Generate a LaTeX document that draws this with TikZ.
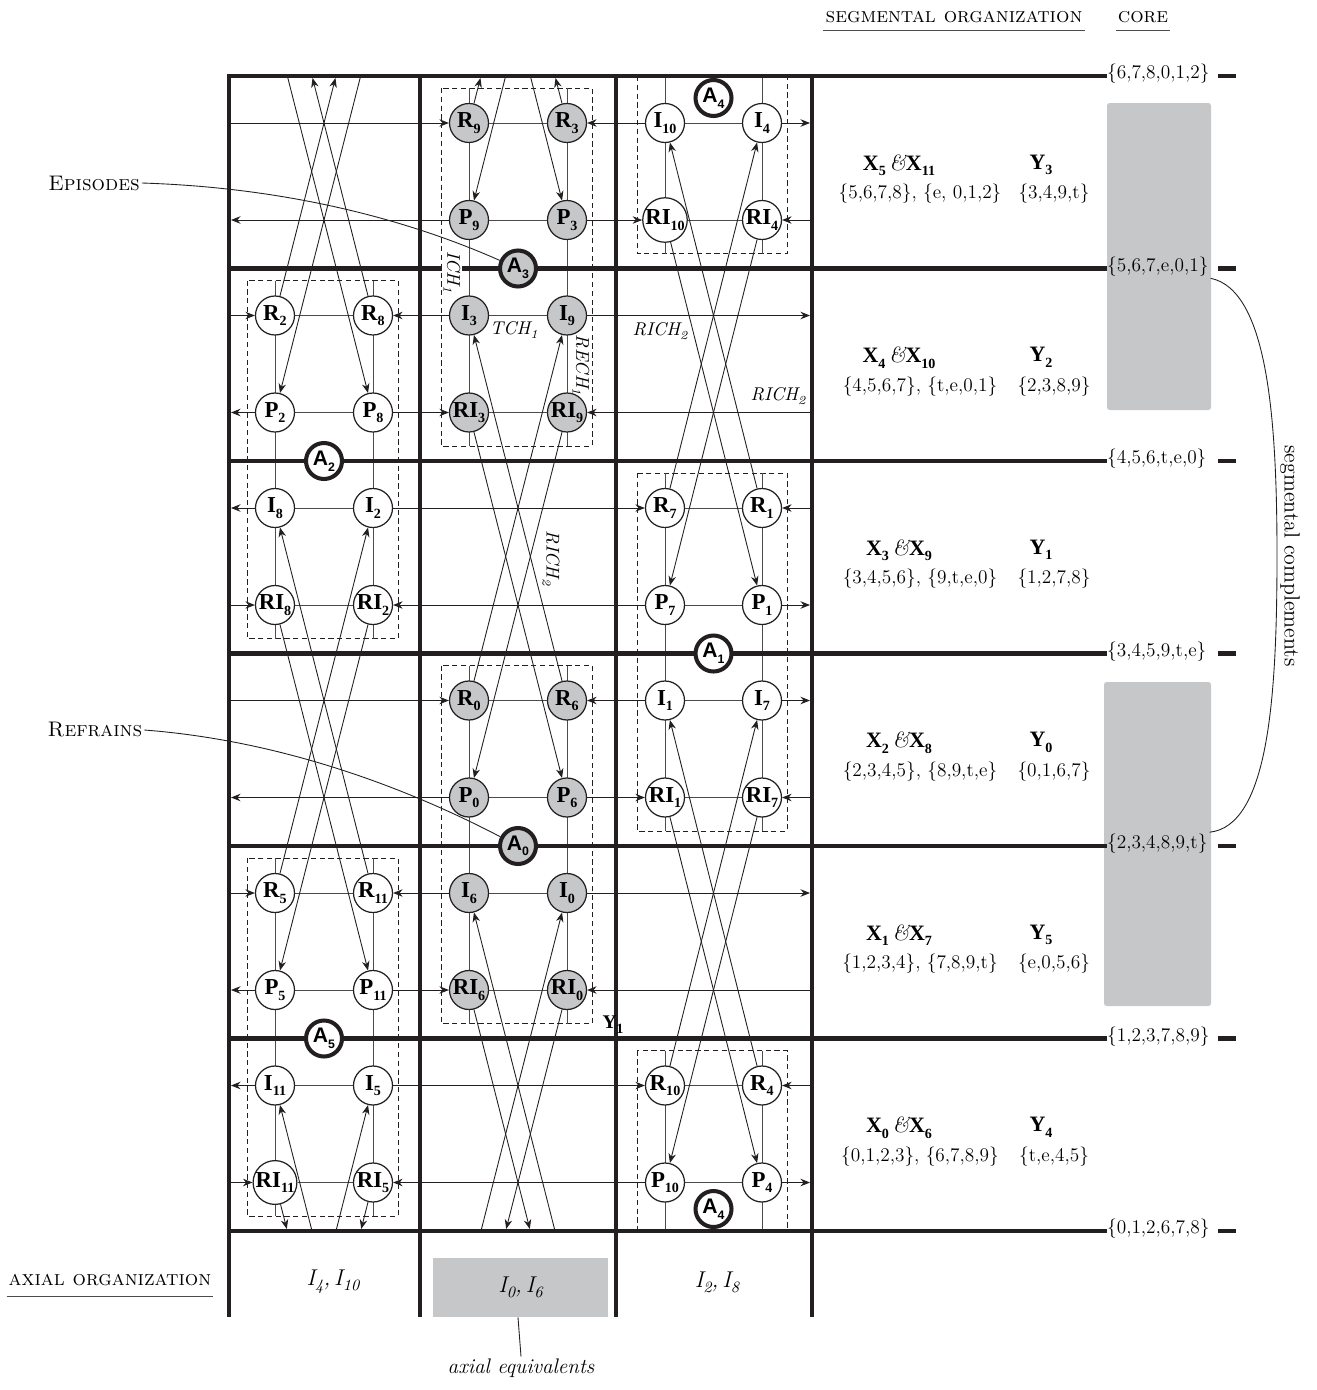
\documentclass[tikz,border=0pt]{standalone}
\usepackage{fontspec}
\usepackage{tikz}
\usetikzlibrary{calc,arrows.meta,backgrounds}
\newfontfamily\tonefont{Liberation Serif}
\newfontfamily\afont{Liberation Sans}
\definecolor{coreclr}{RGB}{198,199,201}
\definecolor{inkclr}{RGB}{35,31,32}
\newcommand{\tone}[2]{{\tonefont\bfseries #1\raisebox{-0.55ex}{\fontsize{8}{8}\selectfont #2}}}
\newcommand{\alab}[1]{{\afont\bfseries A\raisebox{-0.5ex}{\fontsize{7}{7}\selectfont #1}}}
\newcommand{\chlab}[2]{{\itshape #1\raisebox{-0.5ex}{\fontsize{7}{7}\selectfont #2}}}
\newcommand{\axlab}[2]{{\itshape I\raisebox{-0.5ex}{\fontsize{9}{9}\selectfont #1},\,I\raisebox{-0.5ex}{\fontsize{9}{9}\selectfont #2}}}
% wrapped diagonals: out through one edge, back in through the other
\newcommand{\wrapup}[2]{%
  \coordinate (g#2) at ($(#2)+(0,-1155)$);
  \coordinate (g#1) at ($(#1)+(0,1155)$);
  \draw[arr] (#1) -- (intersection of #1--g#2 and topl--topr);
  \draw[arr] (intersection of g#1--#2 and botl--botr) -- (#2);}
\newcommand{\wrapdn}[2]{%
  \coordinate (g#2) at ($(#2)+(0,1155)$);
  \coordinate (g#1) at ($(#1)+(0,-1155)$);
  \draw[arr] (#1) -- (intersection of #1--g#2 and botl--botr);
  \draw[arr] (intersection of g#1--#2 and topl--topr) -- (#2);}
\tikzset{
  form/.style  = {circle, draw=inkclr, line width=0.7pt, fill=white,
                  minimum size=7.8mm, inner sep=0pt, font=\fontsize{13}{13}\selectfont},
  gform/.style = {form, fill=coreclr},
  ax/.style    = {circle, draw=inkclr, line width=2.3pt, fill=white,
                  minimum size=7.2mm, inner sep=0pt, font=\fontsize{12}{12}\selectfont},
  wall/.style  = {draw=inkclr, line width=0.85mm},
  link/.style  = {draw=black!70, line width=0.5pt},
  arr/.style   = {draw=inkclr, line width=0.5pt, -{Stealth[length=1.9mm,width=1.5mm]}},
  dbox/.style  = {draw=inkclr, line width=0.5pt, dash pattern=on 3pt off 2pt},
  lbl/.style   = {font=\fontsize{11}{13}\selectfont, inner sep=1pt},
  head/.style  = {font=\fontsize{12}{14}\selectfont, inner sep=1pt},
  chn/.style   = {font=\fontsize{10.5}{12}\selectfont, inner sep=1pt},
}

\begin{document}
\begin{tikzpicture}[x=0.2mm, y=-0.2mm]
  \useasboundingbox (0,0) rectangle (1316,1390);
  % -- walls used by the row and wrapped lines -----------------------
  \coordinate (wl) at (231,76);
  \coordinate (wr) at (810,76);
  \coordinate (topl) at (229,78);
  \coordinate (topr) at (812,78);
  \coordinate (botl) at (229,1229);
  \coordinate (botr) at (812,1229);

  % -- row forms -------------------------------------------------------
  \foreach \nm/\ltr/\idx/\x/\y in {
      r2/R/2/275/315.5, r8/R/8/373/315.5, p2/P/2/275/412.5, p8/P/8/373/412.5,
      i8/I/8/275/508, i2/I/2/373/508, ri8/RI/8/275/605, ri2/RI/2/373/605,
      r5/R/5/275/893, r11/R/11/373/893, p5/P/5/275/990, p11/P/11/373/990,
      i11/I/11/275/1085.5, i5/I/5/373/1085.5, ri11/RI/11/275/1182.5, ri5/RI/5/373/1182.5,
      i10/I/10/665/123, i4/I/4/762/123, ri10/RI/10/665/220, ri4/RI/4/762/220,
      r7/R/7/665/508, r1/R/1/762/508, p7/P/7/665/605, p1/P/1/762/605,
      i1/I/1/665/700.5, i7/I/7/762/700.5, ri1/RI/1/665/797.5, ri7/RI/7/762/797.5,
      r10/R/10/665/1085.5, r4/R/4/762/1085.5, p10/P/10/665/1182.5, p4/P/4/762/1182.5}
    \node[form] (\nm) at (\x,\y) {\tone{\ltr}{\idx}};
  \foreach \nm/\ltr/\idx/\x/\y in {
      r9/R/9/469/123, r3/R/3/567/123, p9/P/9/469/220, p3/P/3/567/220,
      i3/I/3/469/315.5, i9/I/9/567/315.5, ri3/RI/3/469/412.5, ri9/RI/9/567/412.5,
      r0/R/0/469/700.5, r6/R/6/567/700.5, p0/P/0/469/797.5, p6/P/6/567/797.5,
      i6/I/6/469/893, i0/I/0/567/893, ri6/RI/6/469/990, ri0/RI/0/567/990}
    \node[gform] (\nm) at (\x,\y) {\tone{\ltr}{\idx}};

  % -- axes --------------------------------------------------------------
  \foreach \nm/\idx/\x/\y/\clr in {a4/4/713.5/98/white, a3/3/518/268.5/coreclr,
      a2/2/324/461/white, a1/1/713.5/653.5/white, a0/0/518/846/coreclr,
      a5/5/324/1038.5/white, a4b/4/713.5/1209/white}
    \node[ax, fill=\clr] (\nm) at (\x,\y) {\alab{\idx}};

  % -- chain labels ----------------------------------------------------
  \node[chn, fill=white, rotate=-90] (ich) at (452,272) {\chlab{ICH}{1}};
  \node[chn] (tch) at (514,330) {\chlab{TCH}{1}};
  \node[chn, rotate=-90] (rech) at (581,365) {\chlab{RECH}{1}};
  \node[chn] (richa) at (660,331) {\chlab{RICH}{2}};
  \node[chn] (richb) at (778,396) {\chlab{RICH}{2}};
  \node[chn, rotate=-90] (richc) at (551,558) {\chlab{RICH}{2}};
  \node[lbl] (yone) at (613,1025) {\tone{Y}{1}};

  % -- segmental organization ------------------------------------------
  \node[head, anchor=base] (segorg) at (954,22) {\textsc{segmental organization}};
  \node[head, anchor=base] (core) at (1143,22) {\textsc{core}};
  \foreach \k/\s in {0/{6,7,8,0,1,2}, 1/{5,6,7,e,0,1}, 2/{4,5,6,t,e,0},
                     3/{3,4,5,9,t,e}, 4/{2,3,4,8,9,t}, 5/{1,2,3,7,8,9}, 6/{0,1,2,6,7,8}}
    \node[lbl, anchor=west] (s\k) at (1105,{76+192.5*\k-2}) {\{\s\}};
  \foreach \k/\xa/\xb/\yi/\sa/\sb in {
      1/5/11/3/{\{5,6,7,8\}, \{e, 0,1,2\}}/{\{3,4,9,t\}},
      2/4/10/2/{\{4,5,6,7\}, \{t,e,0,1\}}/{\{2,3,8,9\}},
      3/3/9/1/{\{3,4,5,6\}, \{9,t,e,0\}}/{\{1,2,7,8\}},
      4/2/8/0/{\{2,3,4,5\}, \{8,9,t,e\}}/{\{0,1,6,7\}},
      5/1/7/5/{\{1,2,3,4\}, \{7,8,9,t\}}/{\{e,0,5,6\}},
      6/0/6/4/{\{0,1,2,3\}, \{6,7,8,9\}}/{\{t,e,4,5\}}}{
    \pgfmathsetmacro\T{76+192.5*(\k-1)}
    \node[lbl, font=\fontsize{12.5}{14}\selectfont] (xl\k) at (899,\T+89)
      {\tone{X}{\xa}\,{\itshape\&}\tone{X}{\xb}};
    \node[lbl] (xs\k) at (920,\T+118) {\sa};
    \node[lbl, font=\fontsize{12.5}{14}\selectfont] (yl\k) at (1041,\T+89) {\tone{Y}{\yi}};
    \node[lbl] (ys\k) at (1054,\T+118) {\sb};
  }
  \node[lbl, rotate=-90, font=\fontsize{12.5}{14}\selectfont] (segc) at (1290,556)
    {segmental complements};

  % -- side labels -----------------------------------------------------
  \node[head] (epi) at (94,183) {\textsc{Episodes}};
  \node[head] (refr) at (95,730) {\textsc{Refrains}};

  % -- axial organization ----------------------------------------------
  \node[head, anchor=base] (axorg) at (110,1285) {\textsc{axial organization}};
  \node[lbl, font=\fontsize{13}{15}\selectfont] (axa) at (333,1282) {\axlab{4}{10}};
  \node[lbl, fill=coreclr, minimum width=35mm, minimum height=11.8mm,
        font=\fontsize{13}{15}\selectfont] (axb) at (520.5,1287.5) {\axlab{0}{6}};
  \node[lbl, font=\fontsize{13}{15}\selectfont] (axc) at (717,1282) {\axlab{2}{8}};
  \node[head, font=\fontsize{12}{14}\selectfont\itshape] (axeq) at (521,1368) {axial equivalents};

  \begin{pgfonlayer}{background}
    % core areas
    \fill[coreclr, rounded corners=1.5pt] (1107,103) rectangle (1211,410);
    \fill[coreclr, rounded corners=1.5pt] (1104,682) rectangle (1211,1006);
    % dashed boxes with their vertical links
    \foreach \xa/\xb/\ya/\yb in {247/398/280.5/638.5, 247/398/858/1216,
        441/592/88/446, 441/592/665.5/1023.5,
        637/787/76/253.5, 637/787/473/831, 637/787/1050.5/1231}{
      \draw[dbox] (\xa,\ya) rectangle (\xb,\yb);
      \draw[link] ({\xa+28},\ya) -- ({\xa+28},\yb) ({\xb-25},\ya) -- ({\xb-25},\yb);
    }
    % rows
    \foreach \a/\b in {r9/r3, p9/p3, i10/i4, ri10/ri4, r2/r8, p2/p8, i3/i9, ri3/ri9,
        i8/i2, ri8/ri2, r7/r1, p7/p1, r0/r6, p0/p6, i1/i7, ri1/ri7,
        r5/r11, p5/p11, i6/i0, ri6/ri0, i11/i5, ri11/ri5, r10/r4, p10/p4}
      \draw[link] (\a) -- (\b);
    \foreach \a/\b in {i10/r3, p3/ri10, i3/r8, p8/ri3, i2/r7, p7/ri2,
        i1/r6, p6/ri1, i6/r11, p11/ri6, i5/r10, p10/ri5}
      \draw[arr] (\a) -- (\b);
    \foreach \n in {p9, p2, i8, p0, p5, i11} \draw[arr] (\n) -- (wl |- \n);
    \foreach \n in {r9, r2, ri8, r0, r5, ri11} \draw[arr] (wl |- \n) -- (\n);
    \foreach \n in {i4, i9, p1, i7, i0, p4} \draw[arr] (\n) -- (wr |- \n);
    \foreach \n in {ri4, ri9, r1, ri7, ri0, r4} \draw[arr] (wr |- \n) -- (\n);
    % diagonals through the empty cells
    \foreach \a/\b in {r5/i2, r11/i8, ri8/p11, ri2/p5, r0/i9, r6/i3, ri3/p6, ri9/p0,
        r7/i4, r1/i10, ri10/p1, ri4/p7, r10/i7, r4/i1, ri1/p4, ri7/p10}
      \draw[arr] (\a) -- (\b);
    \wrapup{r2}{i5} \wrapup{r8}{i11} \wrapdn{ri11}{p8} \wrapdn{ri5}{p2}
    \wrapup{r9}{i0} \wrapup{r3}{i6} \wrapdn{ri6}{p3} \wrapdn{ri0}{p9}
    % walls
    \foreach \x in {229,420,616,812}
      \draw[wall] (\x,76) -- (\x,1317);
    \foreach \k in {0,...,6}{
      \draw[wall, line cap=rect] (229,{76+192.5*\k}) -- (1105,{76+192.5*\k});
      \draw[wall] (1218,{76+192.5*\k}) -- (1236,{76+192.5*\k});
    }
    % leaders and underlines
    \draw[inkclr, line width=0.5pt] (epi.east) .. controls (300,188) and (420,225) .. (a3);
    \draw[inkclr, line width=0.5pt] (refr.east) .. controls (300,742) and (430,800) .. (a0);
    \draw[inkclr, line width=0.5pt] (s1.south east) .. controls (1268,290) and (1277,420) .. (1277,556)
      .. controls (1277,700) and (1268,826) .. (s4.north east);
    \draw[inkclr, line width=0.5pt] ([xshift=-0.5mm]axb.south) -- (axeq.north);
    \draw[black!70, line width=0.6pt] ([yshift=-1.7mm]segorg.base west) -- ([yshift=-1.7mm]segorg.base east);
    \draw[black!70, line width=0.6pt] ([yshift=-1.7mm]core.base west) -- ([yshift=-1.7mm]core.base east);
    \draw[black!70, line width=0.6pt] ([yshift=-2.3mm]axorg.base west) -- ([yshift=-2.3mm]axorg.base east);
  \end{pgfonlayer}
\end{tikzpicture}
\end{document}
